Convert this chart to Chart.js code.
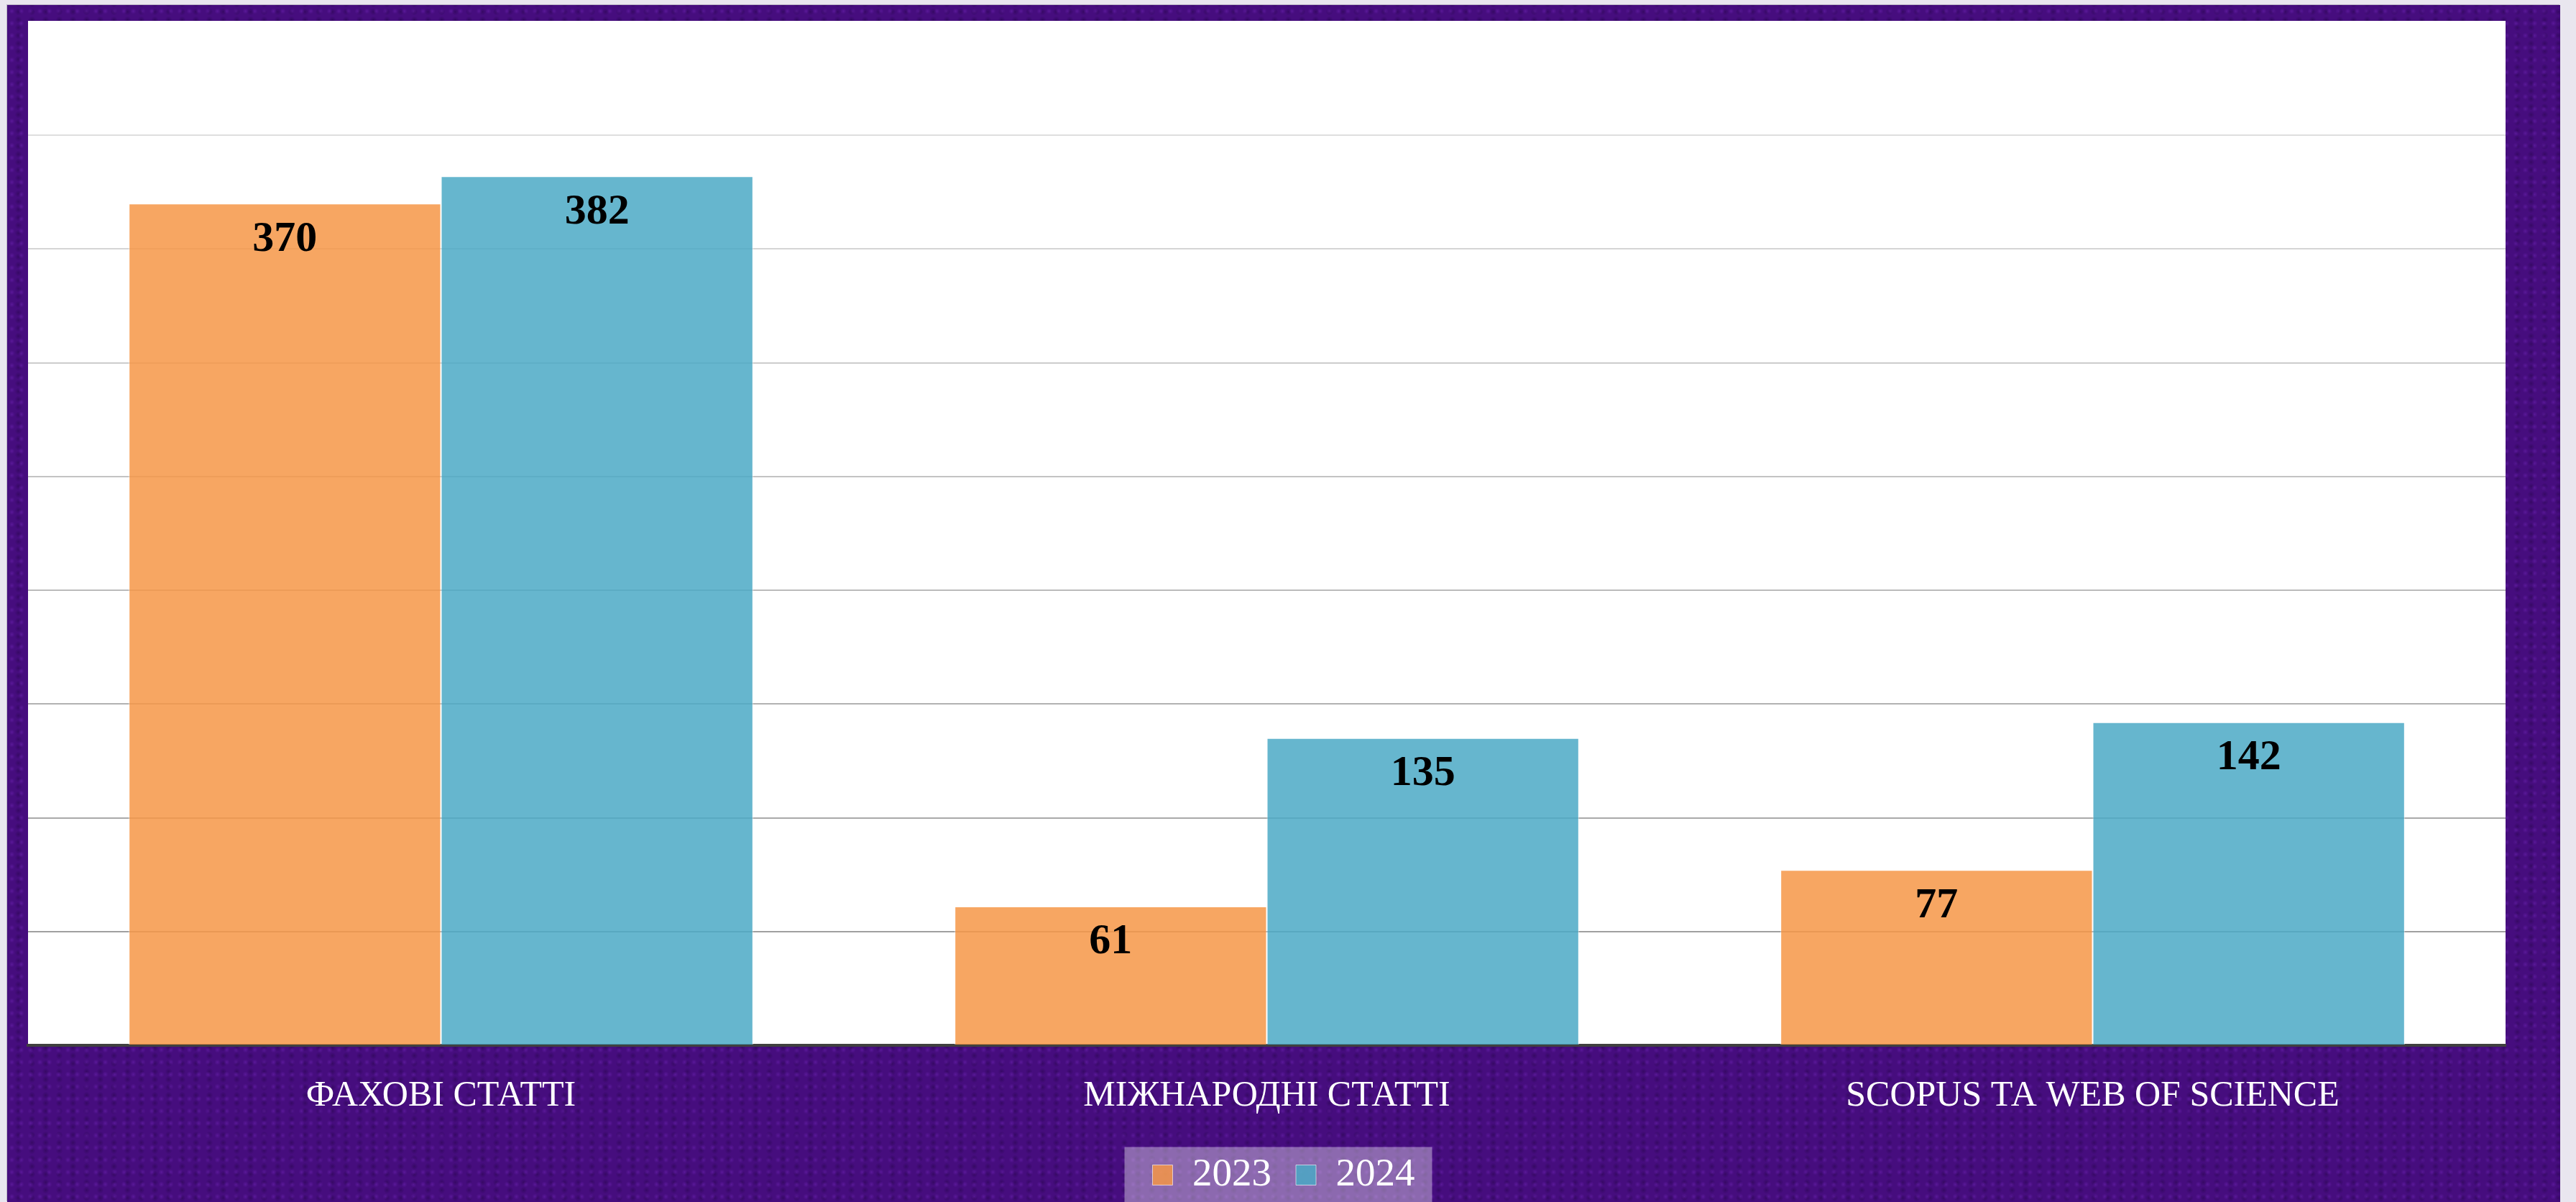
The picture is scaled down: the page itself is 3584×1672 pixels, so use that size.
<!DOCTYPE html>
<html lang="uk">
<head>
<meta charset="UTF-8">
<title>Статті 2023–2024</title>
<script src="https://cdn.jsdelivr.net/npm/chart.js@4.4.1/dist/chart.umd.min.js"></script>
<style>
  html, body {
    margin: 0;
    padding: 0;
    width: 3584px;
    height: 1672px;
    overflow: hidden;
    background: #e9e6ef;
  }
  /* purple textured frame behind the chart */
  #frame {
    position: absolute;
    left: 10px;
    top: 7px;
    width: 3552px;
    height: 1665px;
    box-shadow: -1px -1px 0 #bcb6c6;
    background-color: #460d7e;
    background-image:
      radial-gradient(circle at 50% 50%, rgba(125, 45, 200, 0.35) 0, rgba(125, 45, 200, 0) 4px),
      radial-gradient(circle at 50% 50%, rgba(20, 0, 45, 0.3) 0, rgba(20, 0, 45, 0) 5px);
    background-size: 13px 17px, 19px 11px;
    background-position: 0 0, 6px 4px;
  }
</style>
</head>
<body>
<div id="frame">
  <canvas id="chart"></canvas>
</div>

<script>
// Chart data
const categories = ["ФАХОВІ СТАТТІ", "МІЖНАРОДНІ СТАТТІ", "SCOPUS ТА WEB OF SCIENCE"];
const seriesNames = ["2023", "2024"];
const values2023 = [370, 61, 77];
const values2024 = [382, 135, 142];
const yMax = 450;
const yStep = 50;

const serifFont = "'Liberation Serif', 'DejaVu Serif', serif";

// White plot background + translucent box behind the legend
const backgroundPlugin = {
  id: "backgrounds",
  beforeDraw(chart) {
    const { ctx, chartArea } = chart;
    ctx.save();
    ctx.fillStyle = "#ffffff";
    ctx.fillRect(chartArea.left, chartArea.top - 1, chartArea.right - chartArea.left, chartArea.bottom - chartArea.top + 1);

    const boxes = chart.legend && chart.legend.legendHitBoxes;
    if (boxes && boxes.length) {
      const first = boxes[0];
      const last = boxes[boxes.length - 1];
      const mid = first.top + first.height / 2;
      const left = first.left - 39;
      const right = last.left + last.width + 24;
      ctx.fillStyle = "rgba(255, 255, 255, 0.38)";
      ctx.fillRect(left, mid - 39, right - left, 78);
    }
    ctx.restore();
  },
};

// Value labels inside the top of every bar
const valueLabelPlugin = {
  id: "valueLabels",
  afterDatasetsDraw(chart) {
    const { ctx } = chart;
    ctx.save();
    ctx.font = "bold 60px " + serifFont;
    ctx.fillStyle = "#000000";
    ctx.textAlign = "center";
    ctx.textBaseline = "middle";
    chart.data.datasets.forEach((dataset, i) => {
      const meta = chart.getDatasetMeta(i);
      meta.data.forEach((bar, j) => {
        ctx.fillText(String(dataset.data[j]), bar.x, bar.y + 50);
      });
    });
    ctx.restore();
  },
};

// Gridlines get lighter towards the top, top and zero lines hidden
function gridColor(context) {
  const v = context.tick ? context.tick.value : 0;
  if (v <= 0 || v >= yMax) return "rgba(0,0,0,0)";
  const g = Math.round(160 + ((v - yStep) / (yMax - 2 * yStep)) * 62);
  return `rgb(${g},${g},${g})`;
}

const config = {
  type: "bar",
  data: {
    labels: categories,
    datasets: [
      {
        label: seriesNames[0],
        data: values2023,
        backgroundColor: "rgba(246, 150, 70, 0.85)",
        borderColor: "rgba(255, 255, 255, 0.6)",
        borderWidth: 1,
      },
      {
        label: seriesNames[1],
        data: values2024,
        backgroundColor: "rgba(75, 169, 197, 0.85)",
        borderColor: "rgba(255, 255, 255, 0.6)",
        borderWidth: 1,
      },
    ],
  },
  options: {
    responsive: true,
    maintainAspectRatio: false,
    animation: false,
    layout: {
      padding: { left: 29, right: 29, top: 23, bottom: 0 },
    },
    datasets: {
      bar: {
        categoryPercentage: 0.756,
        barPercentage: 1.0,
      },
    },
    scales: {
      x: {
        grid: { display: false, drawTicks: false },
        border: { display: true, color: "#404040", width: 4 },
        ticks: {
          color: "#ffffff",
          padding: 41,
          font: { family: serifFont, size: 50 },
        },
        afterFit(scale) {
          scale.height = 119;
        },
      },
      y: {
        position: "right",
        min: 0,
        max: yMax,
        ticks: { display: false, stepSize: yStep },
        grid: { color: gridColor, lineWidth: 2, drawTicks: false },
        border: { display: false },
        afterFit(scale) {
          scale.width = 47;
        },
      },
    },
    plugins: {
      tooltip: { enabled: false },
      legend: {
        position: "bottom",
        labels: {
          color: "#ffffff",
          boxWidth: 28,
          boxHeight: 28,
          padding: 34,
          font: { family: serifFont, size: 55 },
        },
      },
    },
  },
  plugins: [backgroundPlugin, valueLabelPlugin],
};

new Chart(document.getElementById("chart"), config);
</script>
</body>
</html>
